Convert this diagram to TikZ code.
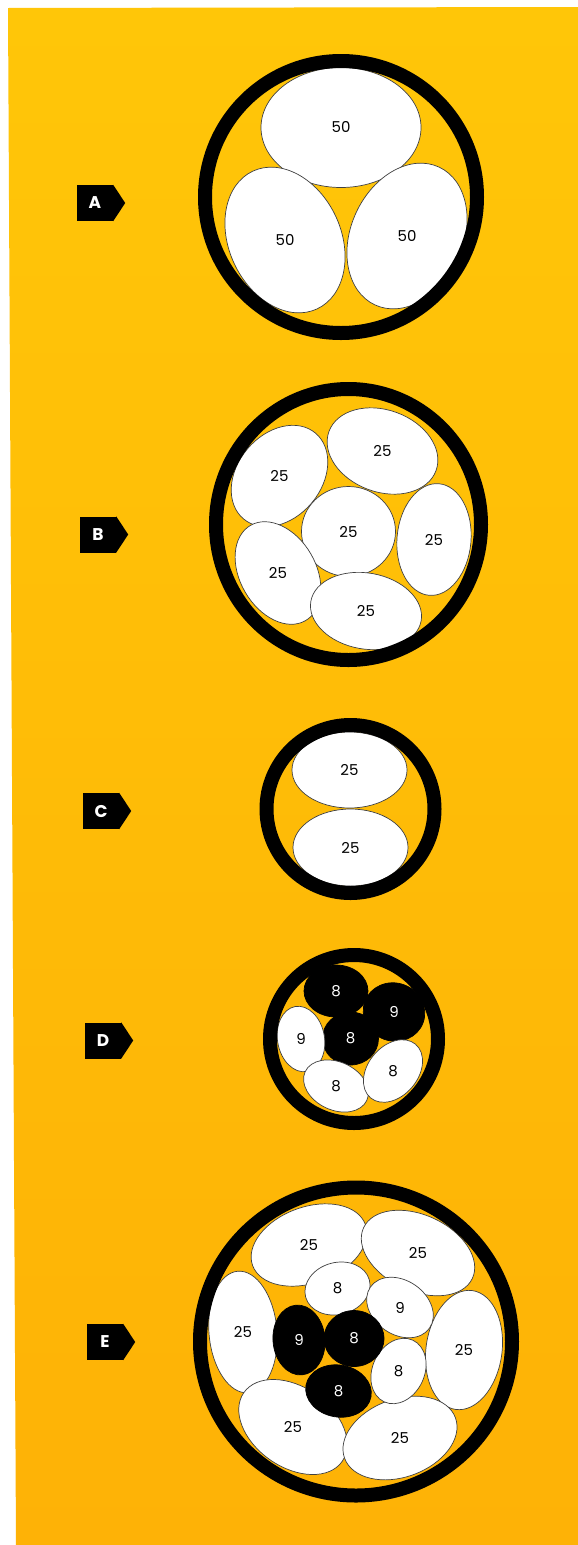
\documentclass[tikz,border=0pt]{standalone}
\usepackage{fontspec}
\newfontfamily\numfont{Poppins}
\usepackage{xcolor}
\usepackage{tikz}

\definecolor{bgtop}{RGB}{255,198,8}
\definecolor{bgbottom}{RGB}{254,178,6}

\begin{document}
\begin{tikzpicture}[x=1pt, y=-1pt]
    % Styles
    \tikzstyle{wire} = [draw=black!75, line width=0.7pt, fill=white]
    \tikzstyle{core} = [draw=black, line width=0.7pt, fill=black]
    \tikzstyle{sheath} = [draw=black, line width=14pt]
    \tikzstyle{num} = [inner sep=0pt, font=\numfont\fontsize{15}{15}\selectfont]
    \tikzstyle{tag} = [rectangle, fill=black, text=white, minimum width=36pt, minimum height=36pt, inner sep=0pt, font=\numfont\bfseries\fontsize{17}{17}\selectfont]

    % --- PAGE ---
    \useasboundingbox (0,0) rectangle (578,1545);
    \fill[white] (0,0) rectangle (578,1545);
    \shade[top color=bgtop, bottom color=bgbottom] (8,8) -- (578,7) -- (578,1545) -- (16,1545) -- cycle;

    % --- TAGS ---
    \foreach \t/\x/\y in {A/95/203, B/98/534.5, C/101/811, D/103/1040.5, E/105/1342} {
        \node[tag] (tag\t) at (\x,\y) {\t};
        \fill (tag\t.north east) -- ([xshift=12pt]tag\t.east) -- (tag\t.south east) -- cycle;
    }

    % --- A: three 50s ---
    \foreach \cx/\cy/\rx/\ry/\ang/\lab [count=\i] in {341/127.5/80/60/0/50, 285/240/56/76/25/50, 407/236/56/76/-25/50} {
        \path[wire, rotate around={\ang:(\cx,\cy)}] (\cx,\cy) ellipse [x radius=\rx, y radius=\ry];
        \node[num] (a\i) at (\cx,\cy) {\lab};
    }
    \draw[sheath] (341,197) circle [radius=136];

    % --- B: six 25s ---
    \foreach \cx/\cy/\rx/\ry/\ang/\lab [count=\i] in {279.5/476/42/56/-40/25, 382.5/451/57/41/-20/25, 348.5/531.5/47/45/0/25,
        434/539.5/37/56/-5/25, 278/573/38/55/30/25, 366/611/56/38/-10/25} {
        \path[wire, rotate around={\ang:(\cx,\cy)}] (\cx,\cy) ellipse [x radius=\rx, y radius=\ry];
        \node[num] (b\i) at (\cx,\cy) {\lab};
    }
    \draw[sheath] (348.5,524.5) ellipse [x radius=132.5, y radius=135.5];

    % --- C: two 25s ---
    \foreach \cx/\cy/\rx/\ry/\lab [count=\i] in {349.5/770/57.5/38/25, 350.5/847.5/57.5/38.5/25} {
        \path[wire] (\cx,\cy) ellipse [x radius=\rx, y radius=\ry];
        \node[num] (c\i) at (\cx,\cy) {\lab};
    }
    \draw[sheath] (350.5,809) circle [radius=84];

    % --- D: 8s and 9s, black and white ---
    \foreach \cx/\cy/\rx/\ry/\ang/\lab/\s/\c [count=\i] in {336/991/32/26/0/8/core/white, 394/1012/31/29/-20/9/core/white,
        350.5/1038.5/28/26.5/0/8/core/white, 301/1039/23.5/33/10/9/wire/black,
        336/1086/34/24/-25/8/wire/black, 393/1071/25/35/-40/8/wire/black} {
        \path[\s, rotate around={\ang:(\cx,\cy)}] (\cx,\cy) ellipse [x radius=\rx, y radius=\ry];
        \node[num, text=\c] (d\i) at (\cx,\cy) {\lab};
    }
    \draw[sheath] (354,1039) circle [radius=84];

    % --- E: 25s around, 8s and 9s inside ---
    \foreach \cx/\cy/\rx/\ry/\ang/\lab/\s/\c [count=\i] in {309/1245/60/38/20/25/wire/black, 418/1253/60/38/-25/25/wire/black,
        243/1332/34/61/5/25/wire/black, 464/1350/38/60/-8/25/wire/black,
        293/1427/60/40/-35/25/wire/black, 400/1438/59/39/20/25/wire/black,
        337.5/1288.5/33/26/15/8/wire/black, 400/1307.5/36/27/-35/9/wire/black,
        398.5/1371/26/34/-25/8/wire/black, 299/1340/26/35/5/9/core/white,
        354/1338.5/30/28/0/8/core/white, 338.5/1391/33/26/-10/8/core/white} {
        \path[\s, rotate around={\ang:(\cx,\cy)}] (\cx,\cy) ellipse [x radius=\rx, y radius=\ry];
        \node[num, text=\c] (e\i) at (\cx,\cy) {\lab};
    }
    \draw[sheath] (356,1341.5) ellipse [x radius=156, y radius=154];

\end{tikzpicture}
\end{document}
